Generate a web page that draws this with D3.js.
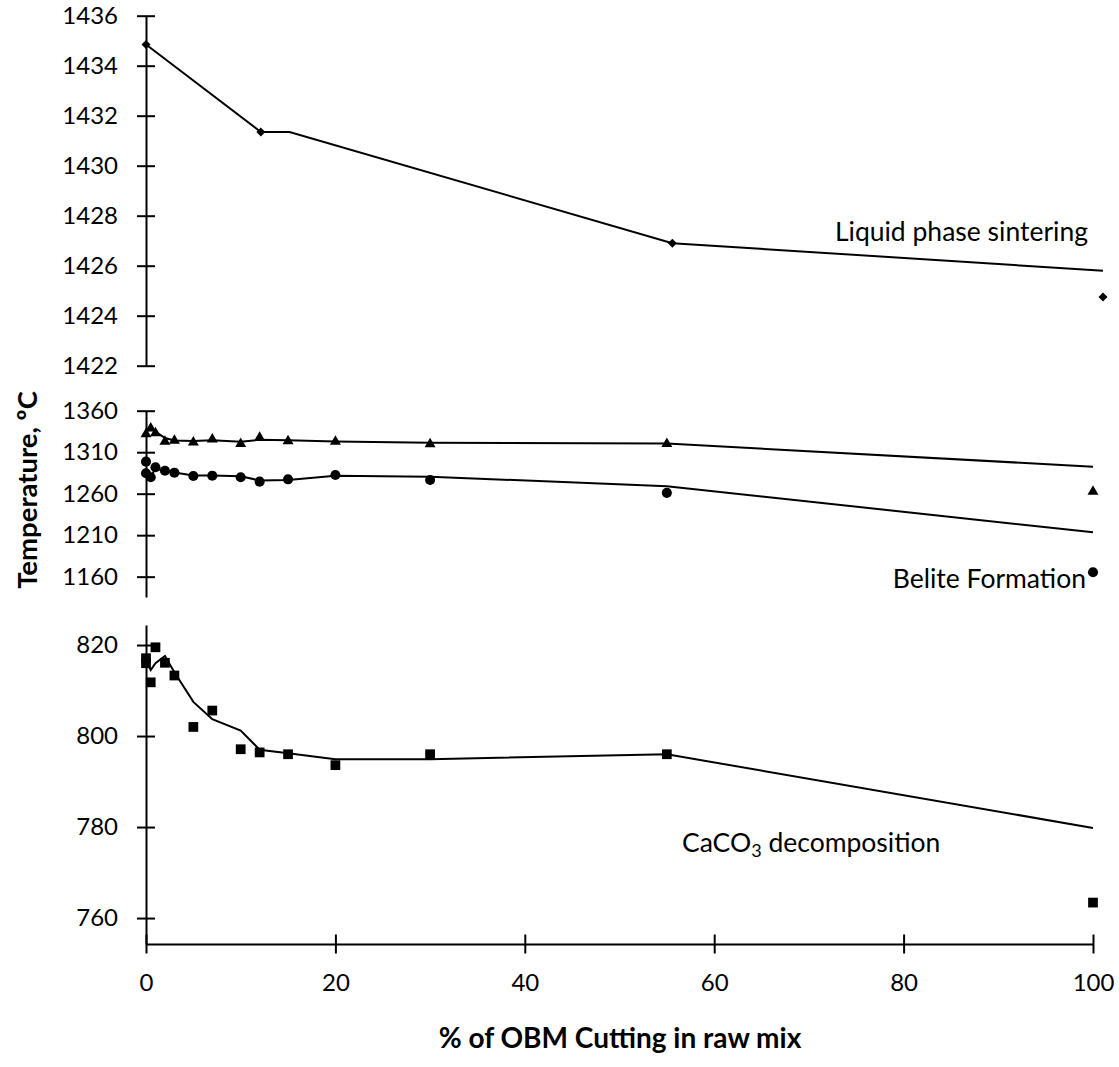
<!DOCTYPE html>
<html>
<head>
<meta charset="utf-8">
<script src="https://cdn.jsdelivr.net/npm/d3@7"></script>
<style>
  body { margin: 0; background: #fff; }
  svg { display: block; font-family: Lato, "Open Sans", sans-serif; }
</style>
</head>
<body>
<div id="chart"></div>
<script>
// x positions (% of OBM cutting) and ticks
const xTicks = [0, 20, 40, 60, 80, 100];
const topTicks = [1422, 1424, 1426, 1428, 1430, 1432, 1434, 1436];
const midTicks = [1160, 1210, 1260, 1310, 1360];
const botTicks = [760, 780, 800, 820];

// Liquid phase sintering
const sinterX = [0, 12, 55, 100];
const sinterY = [1434.85, 1431.35, 1426.9, 1424.75];
const sinterLineX = [0, 12, 15, 55, 100];
const sinterLineY = [1434.85, 1431.35, 1431.35, 1426.9, 1425.8];

// Belite formation - triangles
const triX = [0, 0.5, 1, 2, 3, 5, 7, 10, 12, 15, 20, 30, 55, 100];
const triY = [1331.9, 1338.8, 1333, 1322.7, 1323.9, 1322, 1325.5, 1320.2, 1327.5, 1323.5, 1322.7, 1319.9, 1320, 1262.4];
const triLineX = [0, 0.5, 1, 2, 3, 5, 7, 10, 12, 15, 20, 30, 55, 100];
const triLineY = [1334, 1339, 1335, 1327, 1324, 1323.5, 1324.5, 1322.5, 1325, 1324.5, 1323, 1321.5, 1320.5, 1292.5];

// Belite formation - circles
const circX = [0, 0, 0.5, 1, 2, 3, 5, 7, 10, 12, 15, 20, 30, 55, 100];
const circY = [1298.6, 1284.6, 1279.8, 1291.8, 1287.7, 1285.3, 1281.3, 1281.7, 1279.8, 1274.5, 1277.3, 1282.5, 1276.5, 1261, 1165.3];
const circLineX = [0, 0.5, 1, 2, 3, 5, 7, 10, 12, 15, 20, 30, 55, 100];
const circLineY = [1285, 1281, 1290, 1288, 1285.5, 1282, 1282, 1281, 1276, 1276.5, 1281.5, 1280.5, 1269, 1213.5];

// CaCO3 decomposition - squares
const sqX = [0, 0, 0.5, 1, 2, 3, 5, 7, 10, 12, 15, 20, 30, 55, 100];
const sqY = [817.1, 816.0, 811.8, 819.5, 816.1, 813.3, 802, 805.6, 797.1, 796.4, 796, 793.6, 796, 796, 763.4];
const sqLineX = [0, 0.5, 1, 2, 3, 5, 7, 10, 12, 15, 20, 30, 55, 100];
const sqLineY = [816.5, 814.5, 816, 817.6, 814, 807.5, 803.7, 801.2, 797, 796.2, 794.9, 794.9, 796, 779.8];

const width = 1119, height = 1067;
const svg = d3.select("#chart").append("svg")
    .attr("width", width)
    .attr("height", height);

// scales (three stacked panels sharing the y axis position)
const x = d3.scaleLinear().domain([0, 100]).range([146, 1093]);
const xTop = d3.scaleLinear().domain([0, 100]).range([146, 1103]);
const yTop = d3.scaleLinear().domain([1422, 1436]).range([365.7, 15.7]);
const yMid = d3.scaleLinear().domain([1135.5, 1360]).range([597, 410.7]);
const yBot = d3.scaleLinear().domain([754.3, 824.4]).range([944, 625]);

const zip = (a, b) => a.map((v, i) => [v, b[i]]);

// y axes with cross ticks
function yAxis(scale, ticks) {
    const g = svg.append("g")
        .attr("transform", "translate(146,0)")
        .call(d3.axisLeft(scale).tickValues(ticks).tickSize(9).tickSizeOuter(0).tickPadding(19).tickFormat(d3.format("d")));
    g.select(".domain").attr("stroke", "#000").attr("stroke-width", 2);
    g.selectAll(".tick line").attr("x1", 9).attr("stroke", "#000").attr("stroke-width", 2);
    g.selectAll(".tick text").attr("font-size", 24).attr("fill", "#000")
        .attr("font-family", "Lato, sans-serif");
    return g;
}
yAxis(yTop, topTicks);
yAxis(yMid, midTicks);
yAxis(yBot, botTicks);

// x axis
const gx = svg.append("g")
    .attr("transform", "translate(0,944)")
    .call(d3.axisBottom(x).tickValues(xTicks).tickSize(9.5).tickSizeOuter(0).tickPadding(20));
gx.select(".domain").attr("stroke", "#000").attr("stroke-width", 2);
gx.selectAll(".tick line").attr("y1", -9.5).attr("stroke", "#000").attr("stroke-width", 2);
gx.selectAll(".tick text").attr("font-size", 24).attr("fill", "#000")
    .attr("font-family", "Lato, sans-serif");

// lines
function drawLine(xs, ys, xs_, ys_) {
    svg.append("path")
        .datum(zip(xs, ys))
        .attr("fill", "none")
        .attr("stroke", "#000")
        .attr("stroke-width", 2)
        .attr("d", d3.line().x(d => xs_(d[0])).y(d => ys_(d[1])));
}
drawLine(sinterLineX, sinterLineY, xTop, yTop);
drawLine(triLineX, triLineY, x, yMid);
drawLine(circLineX, circLineY, x, yMid);
drawLine(sqLineX, sqLineY, x, yBot);

// markers
function drawMarkers(xs, ys, xs_, ys_, type, size, rot) {
    svg.append("g")
        .selectAll("path")
        .data(zip(xs, ys))
        .join("path")
        .attr("d", d3.symbol(type, size))
        .attr("fill", "#000")
        .attr("transform", d => `translate(${xs_(d[0])},${ys_(d[1])}) rotate(${rot || 0})`);
}
drawMarkers(sinterX, sinterY, xTop, yTop, d3.symbolSquare, 40, 45);
drawMarkers(triX, triY, x, yMid, d3.symbolTriangle, 52);
drawMarkers(circX, circY, x, yMid, d3.symbolCircle, 80);
drawMarkers(sqX, sqY, x, yBot, d3.symbolSquare, 95);

// series labels
svg.append("text")
    .attr("x", 1088).attr("y", 241)
    .attr("text-anchor", "end")
    .attr("font-size", 26.5)
    .text("Liquid phase sintering");

svg.append("text")
    .attr("x", 1086).attr("y", 588)
    .attr("text-anchor", "end")
    .attr("font-size", 26.5)
    .text("Belite Formation");

const caco = svg.append("text")
    .attr("x", 682).attr("y", 852)
    .attr("font-size", 26.5);
caco.append("tspan").text("CaCO");
caco.append("tspan").attr("font-size", 18).attr("dy", 5).text("3");
caco.append("tspan").attr("dy", -5).text(" decomposition");

// axis titles
svg.append("text")
    .attr("transform", "translate(37,490) rotate(-90)")
    .attr("text-anchor", "middle")
    .attr("font-size", 27.5)
    .attr("font-weight", "bold")
    .text("Temperature, ºC");

svg.append("text")
    .attr("x", 620).attr("y", 1048)
    .attr("text-anchor", "middle")
    .attr("font-size", 28)
    .attr("font-weight", "bold")
    .text("% of OBM Cutting in raw mix");
</script>
</body>
</html>
